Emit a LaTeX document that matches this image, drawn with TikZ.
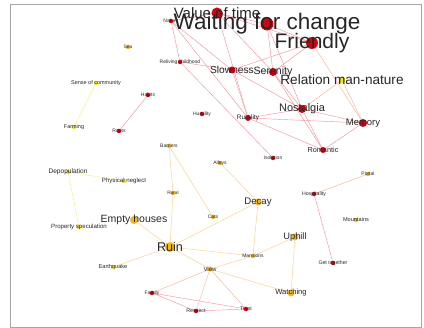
\documentclass[tikz,border=0pt]{standalone}
\usepackage{fontspec}
\setmainfont{Liberation Sans}

\definecolor{nodered}{RGB}{215,0,15}
\definecolor{nodeorange}{RGB}{245,182,35}
\definecolor{nodeyellow}{RGB}{236,226,40}
\definecolor{edgered}{RGB}{242,150,160}
\definecolor{edgemix}{RGB}{246,180,150}
\definecolor{edgeorange}{RGB}{250,212,150}
\definecolor{edgeyellow}{RGB}{250,238,150}
\definecolor{framegray}{RGB}{165,165,165}

\pgfdeclarelayer{bg}
\pgfsetlayers{bg,main}

\begin{document}
\begin{tikzpicture}[
  x=1pt, y=-1pt,
  gdot/.style={circle, inner sep=0pt, minimum size=#1},
  rdot/.style={gdot=#1, fill=nodered},
  odot/.style={gdot=#1, fill=nodeorange},
  ydot/.style={gdot=#1, fill=nodeyellow},
  lab/.style={font=\fontsize{#1}{#1}\selectfont, text=black!85, inner sep=0pt},
  redge/.style={draw=edgered, line width=0.45pt},
  medge/.style={draw=edgemix, line width=0.45pt},
  oedge/.style={draw=edgeorange, line width=0.5pt},
  yedge/.style={draw=edgeyellow, line width=0.5pt}
]
\useasboundingbox (0,0) rectangle (424,328);
\draw[framegray, line width=0.8pt] (10,4) rectangle (421,327);

% ---------------------------------------------------------------------------
% Red group
% ---------------------------------------------------------------------------
\node[rdot=4.5pt, label={[lab=5]center:Nature}] (nat) at (171,21) {};
\node[rdot=11pt, label={[lab=15]center:Value of time}] (vot) at (217,13) {};
\node[rdot=13pt, label={[lab=22.5]center:Waiting for change}] (wait) at (267,24) {};
\node[rdot=12pt, label={[lab=21]center:Friendly}] (fri) at (312,43) {};
\node[rdot=4.5pt, label={[lab=5]center:Reliving childhood}] (rel) at (180,62) {};
\node[rdot=7pt, label={[lab=10.2]center:Slowness}] (slo) at (232,70) {};
\node[rdot=8pt, label={[lab=10.6]center:Serenity}] (ser) at (273,72) {};
\node[rdot=8pt, label={[lab=11]center:Nostalgia}] (nos) at (302,109) {};
\node[rdot=8pt, label={[lab=9.5]center:Memory}] (mem) at (363,123) {};
\node[rdot=6pt, label={[lab=7.3]center:Romantic}] (rom) at (323,150) {};
\node[rdot=6pt, label={[lab=6.5]center:Rurality}] (rur) at (248,118) {};
\node[rdot=4.5pt, label={[lab=5]center:Humility}] (hum) at (202,114) {};
\node[rdot=4.5pt, label={[lab=5]center:Isolation}] (iso) at (273,158) {};
\node[rdot=4.5pt, label={[lab=5]center:Habits}] (hab) at (148,95) {};
\node[rdot=4.5pt, label={[lab=5]center:Roots}] (roo) at (119,131) {};
\node[rdot=4.5pt, label={[lab=5.2]center:Hospitality}] (hos) at (314,194) {};
\node[rdot=4.5pt, label={[lab=5.2]center:Get together}] (get) at (333,263) {};
\node[rdot=4.5pt, label={[lab=5]center:Family}] (fam) at (152,293) {};
\node[rdot=4.5pt, label={[lab=5.2]center:Respect}] (res) at (196,311) {};
\node[rdot=4.5pt, label={[lab=5.2]center:Trust}] (tru) at (246,309) {};

% ---------------------------------------------------------------------------
% Yellow and orange group
% ---------------------------------------------------------------------------
\node[ydot=7pt, label={[lab=13.6]center:Relation man-nature}] (rmn) at (342,80) {};
\node[ydot=4.5pt, label={[lab=5.5]center:Sense of community}] (soc) at (96,83) {};
\node[ydot=4.5pt, label={[lab=5.5]center:Farming}] (far) at (74,127) {};
\node[ydot=4.5pt, label={[lab=6.6]center:Depopulation}] (dep) at (68,172) {};
\node[ydot=4.5pt, label={[lab=6.1]center:Physical neglect}] (phy) at (124,181) {};
\node[ydot=4.5pt, label={[lab=6.1]center:Property speculation}] (pro) at (79,227) {};
\node[ydot=4.5pt, label={[lab=5.6]center:Earthquake}] (ear) at (113,267) {};

\node[odot=4.5pt, label={[lab=4.8]center:Sea}] (sea) at (128,47) {};
\node[odot=8pt, label={[lab=10.5]center:Empty houses}] (emp) at (134,220) {};
\node[odot=10pt, label={[lab=12.6]center:Ruin}] (rui) at (170,247) {};
\node[odot=4.5pt, label={[lab=5]center:Barriers}] (bar) at (169,146) {};
\node[odot=4.5pt, label={[lab=4.8]center:Rural}] (rua) at (173,193) {};
\node[odot=4.5pt, label={[lab=5]center:Alleys}] (all) at (220,163) {};
\node[odot=4.5pt, label={[lab=5]center:Cats}] (cat) at (213,217) {};
\node[odot=7pt, label={[lab=9.6]center:Decay}] (dec) at (258,202) {};
\node[odot=7pt, label={[lab=9.3]center:Uphill}] (uph) at (295,237) {};
\node[odot=4.5pt, label={[lab=5]center:Mansions}] (man) at (253,256) {};
\node[odot=5pt, label={[lab=6]center:View}] (vie) at (210,269) {};
\node[odot=7pt, label={[lab=7.6]center:Watching}] (wat) at (291,293) {};
\node[odot=4.5pt, label={[lab=5.6]center:Mountains}] (mou) at (356,220) {};
\node[odot=4.5pt, label={[lab=5]center:Portal}] (por) at (368,174) {};

% ---------------------------------------------------------------------------
% Edges, behind the nodes
% ---------------------------------------------------------------------------
\begin{pgfonlayer}{bg}
\draw[redge] (nat.center) -- (vot.center);
\draw[redge] (nat.center) -- (rel.center);
\draw[redge] (nat.center) -- (slo.center);
\draw[redge] (nat.center) -- (rur.center);
\draw[redge] (vot.center) -- (wait.center);
\draw[redge] (vot.center) -- (ser.center);
\draw[redge] (vot.center) -- (rur.center);
\draw[redge] (vot.center) -- (fri.center);
\draw[redge] (wait.center) -- (ser.center);
\draw[redge] (wait.center) -- (nos.center);
\draw[redge] (wait.center) -- (fri.center);
\draw[redge] (fri.center) -- (slo.center);
\draw[redge] (fri.center) -- (ser.center);
\draw[redge] (slo.center) -- (ser.center);
\draw[redge] (slo.center) -- (rel.center);
\draw[redge] (slo.center) -- (rur.center);
\draw[redge] (slo.center) -- (nos.center);
\draw[redge] (ser.center) -- (nos.center);
\draw[redge] (ser.center) -- (rom.center);
\draw[redge] (rur.center) -- (nos.center);
\draw[redge] (rur.center) -- (mem.center);
\draw[redge] (rur.center) -- (rom.center);
\draw[redge] (nos.center) -- (mem.center);
\draw[redge] (nos.center) -- (rom.center);
\draw[redge] (rom.center) -- (mem.center);
\draw[redge] (rel.center) -- (iso.center);
\draw[redge] (hab.center) -- (roo.center);
\draw[redge] (hos.center) -- (get.center);
\draw[redge] (fam.center) -- (res.center);
\draw[redge] (fam.center) -- (tru.center);
\draw[redge] (res.center) -- (tru.center);

\draw[medge] (fri.center) -- (mem.center);
\draw[medge] (rmn.center) -- (nos.center);
\draw[medge] (rmn.center) -- (mem.center);
\draw[medge] (hos.center) -- (por.center);
\draw[medge] (vie.center) -- (fam.center);
\draw[medge] (vie.center) -- (res.center);
\draw[medge] (vie.center) -- (tru.center);

\draw[yedge] (soc.center) -- (far.center);
\draw[yedge] (dep.center) -- (phy.center);
\draw[yedge] (dep.center) -- (pro.center);
\draw[oedge] (ear.center) -- (rui.center);
\draw[oedge] (emp.center) -- (rui.center);
\draw[oedge] (bar.center) -- (rua.center);
\draw[oedge] (rua.center) -- (rui.center);
\draw[oedge] (bar.center) -- (cat.center);
\draw[oedge] (all.center) -- (dec.center);
\draw[oedge] (dec.center) -- (rui.center);
\draw[oedge] (dec.center) -- (man.center);
\draw[oedge] (rui.center) -- (man.center);
\draw[oedge] (rui.center) -- (vie.center);
\draw[oedge] (vie.center) -- (man.center);
\draw[oedge] (vie.center) -- (wat.center);
\draw[oedge] (man.center) -- (uph.center);
\draw[oedge] (uph.center) -- (wat.center);
\end{pgfonlayer}

\end{tikzpicture}
\end{document}
